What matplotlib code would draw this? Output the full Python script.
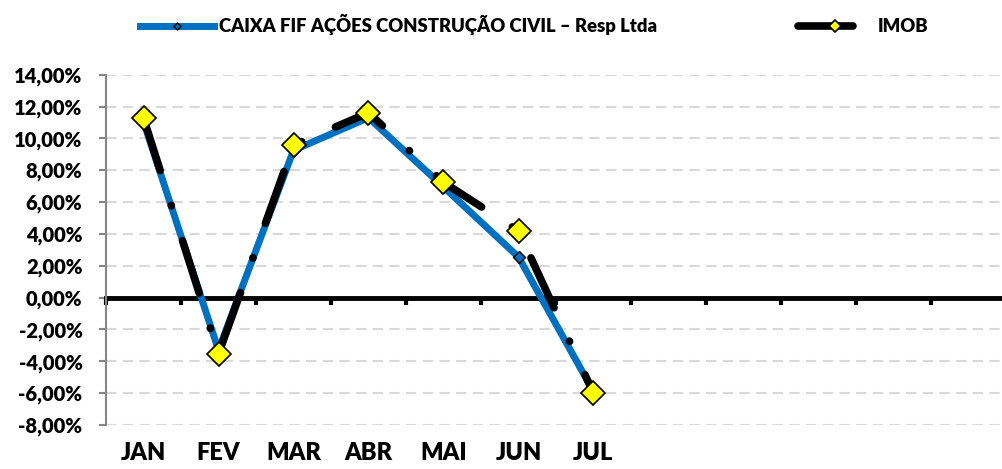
import numpy as np
import matplotlib.pyplot as plt
from matplotlib.ticker import FuncFormatter

meses = ['JAN', 'FEV', 'MAR', 'ABR', 'MAI', 'JUN', 'JUL']
caixa = [11.05, -3.30, 9.25, 11.30, 6.95, 2.55, -5.90]
imob = [11.28, -3.53, 9.58, 11.61, 7.24, 4.19, -6.00]
n_cat = 12
nome_caixa = 'CAIXA FIF AÇÕES CONSTRUÇÃO CIVIL – Resp Ltda'
nome_imob = 'IMOB'

plt.rcParams['font.family'] = ['Lato', 'DejaVu Sans']
plt.rcParams['font.weight'] = 'heavy'

fig = plt.figure(figsize=(10.02, 4.69), dpi=100)
ax = fig.add_axes([106 / 1002, 44 / 469, 900 / 1002, 350.3 / 469])

x = np.arange(len(meses))

# grade tracejada
for v in np.arange(-8, 15, 2):
    if v != 0:
        ax.axhline(v, color='#D9D9D9', lw=1.5, ls=(0, (5, 3)), zorder=0)

ax.plot(x, caixa, color='#0070C0', lw=5, marker='D', ms=6.5,
        markerfacecolor='#0070C0', markeredgecolor='black', markeredgewidth=1,
        solid_joinstyle='round', label=nome_caixa, zorder=3)
ax.plot(x, imob, color='black', lw=5.5, ls=(0, (7.2, 4.8, 0.05, 4.8)),
        dash_capstyle='round', marker='D', ms=12,
        markerfacecolor='#FFFF00', markeredgecolor='black', markeredgewidth=1.2,
        label=nome_imob, zorder=4)

ax.set_xlim(-0.5, n_cat - 0.5)
ax.set_ylim(-8, 14)
ax.set_yticks(np.arange(-8, 15, 2))
ax.yaxis.set_major_formatter(FuncFormatter(lambda v, p: ('%.2f%%' % v).replace('.', ',')))
ax.tick_params(axis='y', length=5, width=1.5, color='#868686', labelsize=14.5, pad=12)

for s in ['top', 'right']:
    ax.spines[s].set_visible(False)
ax.spines['left'].set_color('#868686')
ax.spines['left'].set_linewidth(1.5)
ax.spines['bottom'].set_position(('data', 0))
ax.spines['bottom'].set_linewidth(3.5)
ax.spines['bottom'].set_color('black')
ax.spines['bottom'].set_zorder(2)

ax.set_xticks(np.arange(n_cat + 1) - 0.5)
ax.set_xticklabels([])
ax.tick_params(axis='x', length=5, width=3, color='black', direction='out')

sec = ax.secondary_xaxis('bottom')
sec.set_xticks(x)
sec.set_xticklabels(meses, fontsize=17, fontweight='heavy')
sec.tick_params(length=0, pad=12)
sec.spines['bottom'].set_visible(False)

leg = fig.legend(loc='upper center', bbox_to_anchor=(0.533, 1.005), ncol=2, frameon=False,
                 fontsize=13.3, columnspacing=7.6, handlelength=4.0, handletextpad=0.3,
                 markerscale=0.55)

fig.savefig('out.png', dpi=100)
